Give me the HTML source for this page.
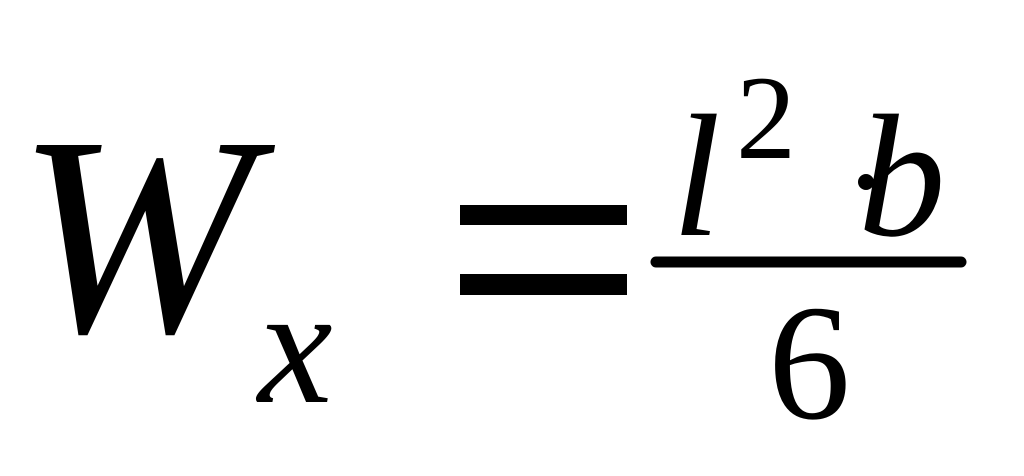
<!DOCTYPE html>
<html><head><meta charset="utf-8"><style>
html,body{margin:0;padding:0;background:#fff;width:1024px;height:476px;overflow:hidden}
svg{display:block}
text{font-family:"Liberation Serif",serif;fill:#000}
</style></head><body>
<svg width="1024" height="476" viewBox="0 0 1024 476" xmlns="http://www.w3.org/2000/svg">
<text x="17" y="331" font-size="284" font-style="italic">W</text>
<text x="258" y="402" font-size="168" font-style="italic">x</text>
<rect x="460" y="205" width="167" height="20" fill="#000"/>
<rect x="460" y="274" width="167" height="21" fill="#000"/>
<text x="672" y="235" font-size="175" font-style="italic">l</text>
<text x="736" y="158" font-size="120">2</text>
<circle cx="866" cy="182" r="8" fill="#000"/>
<text x="858" y="235" font-size="175" font-style="italic">b</text>
<line x1="656" y1="262" x2="961" y2="262" stroke="#000" stroke-width="11" stroke-linecap="round"/>
<text x="768" y="418" font-size="165">6</text>
</svg>
</body></html>
